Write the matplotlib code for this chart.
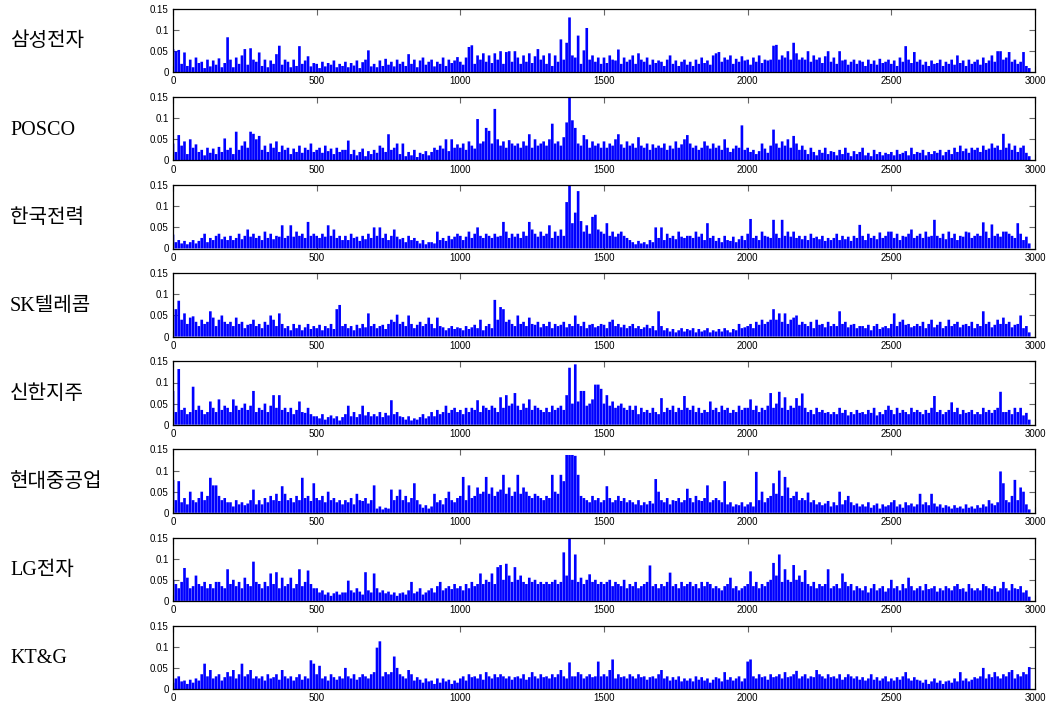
import numpy as np
import matplotlib.pyplot as plt
from matplotlib.ticker import FuncFormatter

plt.rcParams['font.family'] = ['Liberation Sans', 'DejaVu Sans']

names = ['삼성전자', 'POSCO', '한국전력', 'SK텔레콤', '신한지주', '현대중공업', 'LG전자', 'KT&G']

# absolute daily returns, one value per 10 trading days, in 1/1000
samsung = [55, 50, 53, 20, 47, 15, 30, 12, 35, 22,
           25, 10, 30, 14, 28, 18, 33, 12, 22, 83,
           30, 12, 35, 20, 40, 55, 18, 57, 30, 25,
           47, 15, 30, 12, 28, 20, 43, 63, 18, 30,
           25, 12, 30, 15, 62, 20, 28, 38, 14, 22,
           20, 10, 25, 14, 22, 18, 28, 12, 20, 15,
           25, 12, 22, 16, 28, 10, 24, 30, 52, 14,
           20, 12, 28, 15, 32, 18, 25, 14, 30, 20,
           25, 15, 43, 20, 30, 12, 28, 35, 18, 25,
           30, 14, 25, 20, 35, 15, 30, 22, 28, 36,
           25, 18, 35, 60, 64, 20, 40, 30, 45, 25,
           40, 22, 45, 30, 50, 20, 48, 50, 25, 50,
           35, 20, 40, 25, 45, 22, 38, 55, 30, 40,
           20, 45, 15, 40, 25, 78, 30, 70, 130, 40,
           35, 87, 20, 52, 105, 30, 40, 25, 35, 20,
           35, 22, 40, 30, 28, 54, 20, 35, 25, 30,
           40, 20, 45, 30, 25, 35, 18, 30, 22, 28,
           25, 15, 30, 40, 20, 28, 15, 25, 30, 18,
           25, 15, 30, 20, 35, 22, 28, 18, 40, 45,
           48, 25, 35, 30, 40, 20, 32, 25, 38, 28,
           30, 18, 35, 25, 40, 22, 30, 28, 30, 63,
           65, 30, 40, 35, 50, 30, 70, 45, 30, 35,
           30, 50, 25, 40, 30, 35, 22, 38, 50, 25,
           35, 20, 50, 28, 30, 18, 25, 30, 20, 28,
           25, 15, 30, 20, 28, 18, 32, 22, 25, 30,
           20, 28, 15, 35, 25, 62, 30, 22, 48, 25,
           30, 18, 25, 15, 28, 20, 22, 30, 15, 25,
           20, 30, 18, 40, 22, 28, 15, 30, 20, 25,
           30, 18, 35, 22, 28, 40, 25, 50, 50, 30,
           35, 48, 25, 30, 20, 25, 48, 15, 10]

posco = [40, 20, 60, 35, 45, 15, 50, 30, 38, 20,
         25, 12, 30, 18, 28, 15, 32, 20, 52, 25,
         30, 15, 68, 25, 35, 45, 30, 68, 63, 50,
         58, 25, 35, 20, 40, 30, 45, 20, 35, 25,
         30, 15, 28, 20, 35, 18, 30, 25, 40, 20,
         25, 30, 18, 35, 22, 28, 15, 30, 20, 25,
         25, 47, 15, 25, 12, 20, 28, 10, 22, 15,
         25, 18, 35, 30, 20, 62, 25, 30, 40, 15,
         40, 10, 20, 12, 25, 8, 18, 15, 22, 12,
         20, 30, 25, 35, 28, 50, 22, 50, 30, 38,
         30, 40, 25, 45, 35, 28, 98, 40, 45, 77,
         70, 40, 122, 50, 35, 45, 30, 48, 40, 35,
         40, 30, 45, 35, 62, 30, 50, 35, 40, 45,
         35, 50, 87, 40, 45, 35, 55, 90, 149, 95,
         77, 40, 35, 60, 50, 30, 45, 35, 40, 30,
         45, 30, 40, 35, 50, 62, 38, 30, 45, 35,
         40, 30, 55, 35, 30, 40, 25, 38, 30, 35,
         30, 40, 25, 35, 28, 45, 30, 38, 50, 60,
         40, 30, 35, 25, 30, 45, 35, 28, 40, 30,
         35, 25, 50, 30, 20, 28, 35, 30, 83, 25,
         30, 20, 25, 15, 22, 40, 28, 18, 35, 73,
         40, 30, 45, 35, 50, 30, 58, 40, 25, 35,
         25, 15, 30, 20, 12, 25, 18, 30, 15, 22,
         20, 12, 25, 15, 30, 18, 10, 22, 15, 20,
         30, 12, 18, 10, 25, 15, 20, 12, 18, 15,
         20, 12, 25, 15, 18, 22, 12, 30, 15, 20,
         18, 25, 12, 20, 15, 22, 18, 25, 12, 20,
         25, 15, 30, 20, 35, 22, 28, 18, 30, 25,
         30, 20, 35, 25, 28, 40, 30, 35, 25, 63,
         30, 40, 25, 35, 20, 30, 35, 18, 10]

kepco = [33, 15, 20, 12, 18, 10, 15, 20, 12, 18,
         25, 35, 15, 25, 20, 30, 35, 22, 28, 20,
         30, 20, 25, 35, 22, 30, 45, 28, 35, 25,
         30, 20, 40, 25, 35, 22, 30, 28, 55, 25,
         30, 55, 28, 40, 30, 35, 25, 63, 30, 35,
         30, 25, 35, 28, 55, 30, 45, 25, 30, 20,
         30, 20, 35, 25, 28, 18, 30, 22, 35, 25,
         50, 30, 50, 25, 35, 20, 30, 45, 28, 22,
         25, 15, 30, 20, 25, 18, 12, 20, 10, 15,
         15, 12, 40, 20, 25, 18, 30, 22, 28, 35,
         30, 20, 28, 40, 25, 35, 50, 30, 25, 35,
         30, 25, 35, 28, 30, 63, 40, 25, 35, 28,
         35, 25, 40, 30, 63, 45, 35, 28, 40, 30,
         35, 55, 25, 40, 30, 45, 30, 110, 149, 60,
         85, 136, 65, 40, 55, 35, 75, 80, 45, 40,
         35, 60, 30, 40, 28, 35, 40, 30, 25, 20,
         15, 10, 18, 12, 15, 10, 20, 15, 50, 25,
         50, 20, 35, 25, 30, 22, 40, 28, 25, 30,
         30, 25, 40, 28, 35, 20, 60, 25, 30, 18,
         25, 15, 30, 20, 18, 28, 15, 22, 30, 20,
         35, 70, 25, 30, 20, 40, 30, 28, 25, 68,
         35, 25, 68, 30, 40, 28, 40, 25, 30, 22,
         30, 20, 35, 25, 28, 22, 30, 18, 25, 20,
         25, 35, 20, 30, 22, 28, 18, 30, 25, 56,
         30, 20, 35, 25, 30, 22, 38, 25, 30, 40,
         40, 25, 35, 20, 30, 28, 35, 45, 25, 30,
         35, 25, 40, 28, 30, 68, 30, 25, 35, 22,
         40, 25, 35, 20, 30, 28, 40, 38, 25, 30,
         35, 30, 62, 40, 25, 57, 30, 35, 28, 40,
         40, 35, 30, 25, 60, 35, 20, 28, 12]

skt = [50, 65, 85, 40, 55, 30, 45, 48, 35, 25,
       40, 30, 35, 60, 45, 25, 40, 50, 35, 30,
       35, 25, 45, 30, 35, 20, 28, 30, 40, 25,
       30, 20, 35, 28, 50, 40, 25, 55, 30, 20,
       25, 15, 30, 20, 28, 15, 22, 30, 18, 25,
       20, 28, 15, 25, 20, 30, 18, 65, 75, 25,
       30, 20, 25, 15, 28, 20, 30, 22, 55, 25,
       30, 20, 25, 28, 18, 30, 40, 35, 52, 30,
       35, 25, 50, 30, 20, 28, 35, 25, 30, 45,
       30, 20, 45, 25, 22, 15, 20, 25, 18, 22,
       20, 15, 25, 18, 22, 28, 20, 40, 15, 25,
       30, 20, 87, 40, 70, 65, 35, 40, 30, 25,
       50, 30, 35, 25, 45, 30, 28, 35, 22, 30,
       25, 35, 20, 30, 25, 28, 35, 22, 30, 25,
       50, 30, 25, 35, 20, 28, 30, 22, 25, 30,
       28, 20, 35, 40, 25, 30, 22, 28, 20, 25,
       30, 20, 25, 18, 22, 28, 20, 25, 15, 60,
       25, 15, 20, 12, 18, 10, 15, 20, 12, 18,
       15, 20, 10, 18, 12, 15, 20, 10, 15, 12,
       18, 12, 20, 15, 10, 18, 15, 30, 20, 22,
       25, 30, 20, 35, 28, 40, 30, 35, 40, 65,
       40, 55, 35, 55, 30, 40, 45, 50, 28, 35,
       30, 25, 35, 20, 40, 28, 30, 22, 35, 25,
       30, 25, 60, 30, 35, 22, 28, 30, 20, 25,
       25, 20, 28, 15, 25, 30, 18, 22, 25, 20,
       30, 55, 25, 35, 40, 28, 30, 22, 25, 30,
       25, 35, 20, 30, 40, 22, 28, 35, 20, 25,
       40, 25, 30, 35, 22, 28, 30, 25, 35, 20,
       30, 25, 60, 30, 35, 22, 28, 40, 30, 45,
       30, 35, 22, 28, 30, 50, 20, 25, 10]

shinhan = [80, 30, 132, 35, 40, 25, 30, 90, 35, 45,
           35, 25, 30, 55, 40, 30, 60, 35, 45, 40,
           30, 60, 45, 35, 40, 50, 35, 45, 80, 30,
           40, 35, 50, 30, 45, 70, 40, 70, 35, 40,
           30, 40, 25, 35, 55, 30, 28, 40, 25, 20,
           20, 15, 25, 12, 18, 22, 15, 20, 10, 18,
           25, 45, 20, 30, 18, 25, 45, 22, 30, 20,
           25, 20, 30, 18, 28, 22, 58, 25, 30, 20,
           18, 12, 20, 10, 15, 12, 18, 25, 15, 20,
           30, 20, 35, 25, 30, 45, 28, 35, 40, 30,
           35, 25, 40, 30, 40, 35, 58, 30, 45, 40,
           35, 45, 40, 30, 65, 40, 70, 45, 50, 75,
           45, 35, 50, 40, 60, 35, 45, 40, 35, 30,
           40, 30, 45, 35, 40, 45, 35, 70, 135, 50,
           143, 55, 80, 80, 45, 50, 60, 95, 95, 85,
           50, 70, 45, 55, 40, 45, 50, 40, 35, 45,
           35, 45, 25, 40, 30, 35, 28, 40, 30, 25,
           63, 30, 40, 35, 45, 30, 40, 35, 68, 40,
           35, 45, 30, 40, 28, 35, 30, 55, 35, 40,
           30, 45, 35, 40, 28, 35, 30, 45, 35, 40,
           40, 60, 35, 45, 30, 40, 35, 45, 75, 40,
           50, 78, 40, 65, 35, 45, 40, 63, 45, 74,
           40, 30, 35, 25, 40, 30, 35, 28, 30, 25,
           30, 25, 40, 28, 35, 22, 30, 25, 35, 28,
           30, 25, 35, 28, 40, 22, 30, 25, 35, 45,
           35, 25, 40, 28, 35, 30, 25, 40, 30, 35,
           30, 25, 35, 28, 40, 68, 30, 35, 25, 30,
           35, 53, 30, 40, 25, 35, 28, 30, 35, 25,
           30, 25, 40, 30, 35, 28, 35, 40, 78, 30,
           30, 35, 25, 40, 30, 40, 22, 28, 12]

hhi = [78, 30, 75, 25, 35, 20, 50, 30, 25, 35,
       50, 30, 40, 83, 65, 65, 40, 30, 35, 25,
       25, 15, 30, 20, 25, 18, 22, 30, 55, 20,
       30, 20, 35, 25, 40, 30, 45, 28, 63, 45,
       30, 35, 25, 40, 30, 83, 35, 40, 28, 70,
       35, 30, 40, 25, 50, 30, 35, 25, 30, 20,
       30, 25, 35, 20, 45, 30, 28, 35, 22, 30,
       65, 10, 15, 8, 12, 10, 55, 30, 40, 55,
       30, 40, 25, 35, 70, 30, 20, 12, 18, 10,
       15, 45, 25, 30, 20, 35, 50, 30, 25, 35,
       40, 85, 30, 65, 35, 40, 60, 45, 50, 85,
       45, 60, 40, 50, 55, 90, 45, 60, 40, 50,
       90, 45, 60, 50, 40, 35, 45, 40, 35, 30,
       40, 35, 90, 50, 45, 90, 75, 137, 137, 137,
       135, 90, 40, 35, 30, 25, 40, 30, 35, 25,
       30, 63, 35, 25, 30, 40, 28, 35, 25, 30,
       25, 20, 30, 18, 25, 20, 28, 22, 80, 50,
       30, 25, 35, 20, 30, 28, 35, 25, 30, 57,
       35, 25, 40, 30, 28, 35, 65, 25, 30, 35,
       30, 25, 75, 20, 25, 15, 20, 18, 25, 15,
       20, 25, 15, 97, 30, 50, 25, 35, 40, 70,
       45, 100, 40, 85, 60, 35, 40, 50, 30, 35,
       30, 48, 25, 30, 20, 25, 18, 22, 28, 15,
       25, 18, 50, 20, 30, 40, 25, 18, 22, 15,
       20, 15, 25, 12, 18, 22, 10, 20, 15, 18,
       25, 30, 15, 20, 12, 25, 18, 22, 15, 20,
       45, 20, 25, 18, 45, 22, 15, 20, 12, 18,
       15, 10, 18, 12, 15, 10, 20, 12, 15, 10,
       18, 12, 20, 15, 30, 22, 18, 25, 98, 70,
       30, 25, 40, 78, 30, 60, 50, 20, 8]

lg = [50, 40, 30, 45, 78, 55, 30, 35, 60, 40,
      35, 45, 30, 40, 30, 45, 45, 35, 30, 75,
      40, 50, 35, 45, 30, 55, 40, 35, 93, 45,
      40, 30, 45, 35, 65, 40, 68, 30, 55, 35,
      40, 55, 30, 40, 75, 35, 45, 72, 40, 30,
      30, 20, 25, 15, 20, 12, 18, 22, 15, 20,
      20, 48, 25, 20, 30, 22, 15, 68, 25, 20,
      65, 30, 20, 25, 18, 22, 15, 20, 12, 18,
      20, 15, 25, 45, 18, 22, 30, 15, 20, 25,
      30, 20, 35, 45, 25, 30, 35, 28, 40, 30,
      35, 25, 40, 30, 45, 35, 40, 65, 40, 50,
      45, 65, 40, 80, 85, 50, 88, 60, 45, 80,
      50, 60, 45, 40, 55, 45, 50, 40, 45, 40,
      45, 40, 45, 50, 40, 45, 115, 60, 148, 50,
      110, 45, 55, 40, 50, 63, 45, 50, 40, 45,
      40, 45, 50, 35, 45, 40, 35, 50, 30, 40,
      35, 45, 30, 35, 40, 45, 84, 35, 40, 30,
      40, 35, 45, 67, 35, 40, 30, 45, 35, 40,
      45, 35, 40, 30, 45, 35, 45, 40, 30, 35,
      30, 25, 35, 40, 55, 30, 35, 25, 30, 35,
      40, 70, 35, 45, 30, 40, 35, 45, 50, 90,
      60, 110, 45, 75, 50, 45, 85, 50, 60, 45,
      73, 40, 35, 45, 30, 40, 35, 40, 75, 30,
      35, 40, 30, 65, 45, 35, 40, 25, 35, 30,
      25, 35, 20, 30, 40, 25, 30, 35, 22, 30,
      50, 30, 35, 25, 40, 30, 55, 35, 25, 30,
      35, 25, 40, 28, 30, 35, 22, 30, 25, 35,
      30, 25, 35, 40, 28, 30, 22, 40, 30, 25,
      30, 25, 40, 35, 30, 28, 35, 22, 30, 45,
      30, 25, 40, 30, 28, 35, 20, 25, 10]

ktng = [15, 25, 30, 18, 20, 12, 22, 15, 25, 20,
        35, 60, 30, 45, 25, 30, 35, 20, 28, 40,
        30, 45, 25, 35, 60, 30, 35, 45, 25, 30,
        25, 30, 20, 35, 25, 28, 35, 22, 45, 30,
        25, 30, 20, 28, 35, 22, 30, 25, 68, 60,
        35, 55, 25, 30, 20, 35, 28, 22, 30, 25,
        50, 30, 25, 35, 22, 28, 35, 30, 25, 35,
        40, 98, 113, 30, 40, 35, 40, 77, 50, 35,
        30, 25, 45, 35, 20, 28, 22, 15, 25, 18,
        20, 12, 25, 15, 25, 18, 22, 12, 20, 15,
        25, 30, 20, 35, 28, 30, 25, 35, 22, 40,
        30, 25, 35, 28, 35, 30, 25, 30, 22, 28,
        30, 25, 35, 22, 28, 40, 30, 25, 35, 28,
        30, 25, 35, 28, 35, 45, 30, 25, 63, 30,
        30, 40, 35, 25, 30, 35, 28, 30, 65, 30,
        35, 30, 45, 70, 25, 35, 28, 30, 25, 35,
        30, 25, 35, 28, 30, 22, 28, 30, 25, 35,
        45, 25, 30, 20, 28, 22, 30, 18, 25, 20,
        25, 18, 30, 22, 28, 20, 25, 15, 22, 28,
        25, 18, 40, 22, 28, 20, 25, 30, 18, 25,
        65, 70, 30, 25, 35, 28, 30, 22, 35, 28,
        30, 35, 25, 40, 28, 30, 35, 43, 25, 30,
        35, 25, 30, 28, 45, 35, 30, 25, 35, 28,
        30, 25, 35, 22, 28, 35, 30, 25, 30, 22,
        28, 20, 25, 35, 22, 28, 20, 25, 30, 18,
        25, 20, 28, 22, 30, 40, 25, 20, 28, 22,
        20, 15, 22, 12, 18, 25, 15, 20, 12, 18,
        20, 15, 25, 18, 40, 20, 25, 18, 22, 28,
        25, 30, 50, 25, 35, 28, 40, 30, 25, 35,
        30, 40, 45, 25, 35, 30, 40, 35, 52]

series = [samsung, posco, kepco, skt, shinhan, hhi, lg, ktng]
ytops = [0.15, 0.1495, 0.1495, 0.15, 0.15, 0.15, 0.15, 0.15]

W, H = 1049, 707
fig = plt.figure(figsize=(W / 100, H / 100), dpi=100)

for i, (name, vals) in enumerate(zip(names, series)):
    top = 9 + 88.1 * i
    ax = fig.add_axes([173 / W, 1 - (top + 63.3) / H, 862 / W, 63.3 / H])
    v = np.array(vals) / 1000
    x = np.arange(len(v)) * 10
    # dense spikes from the baseline, like the daily series
    ax.vlines(x, 0, v, color='b', lw=1.9, snap=False)

    ax.set_xlim(0, 3000)
    ax.set_ylim(0, ytops[i])
    ax.set_xticks(range(0, 3001, 500))
    ax.set_yticks([0, 0.05, 0.1, 0.15])
    ax.yaxis.set_major_formatter(FuncFormatter(lambda y, p: f'{y:g}'))
    ax.tick_params(direction='in', top=True, right=True, length=4, width=0.8,
                   color='0.4', labelsize=7, pad=3)
    for s in ax.spines.values():
        s.set_linewidth(0.9)

    # company name on the left
    fig.text(10 / W, 1 - (top + 33) / H, name, ha='left', va='center',
             fontsize=14.5, family=['Liberation Serif', 'Noto Sans CJK KR'])

fig.savefig('out.png', dpi=100)
